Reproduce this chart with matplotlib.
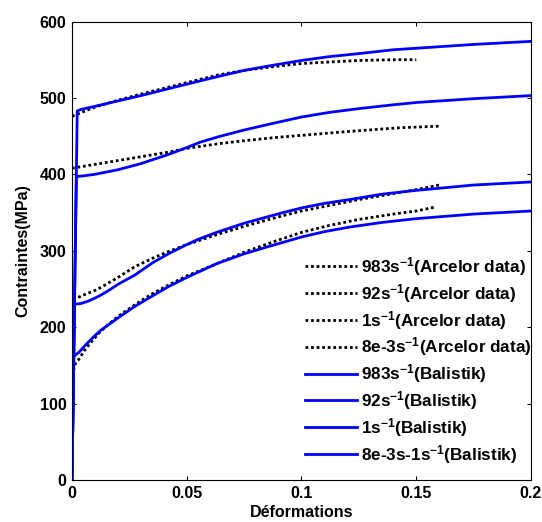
import matplotlib
matplotlib.use("Agg")
import matplotlib.pyplot as plt

plt.rcParams['font.family'] = ['Liberation Sans', 'DejaVu Sans']
plt.rcParams['font.weight'] = 'bold'
plt.rcParams['mathtext.fontset'] = 'custom'
plt.rcParams['mathtext.rm'] = 'Liberation Sans:bold'
plt.rcParams['mathtext.bf'] = 'Liberation Sans:bold'
plt.rcParams['mathtext.default'] = 'rm'

# Arcelor data (dotted black)
arc983_x = [0, 0.01, 0.02, 0.03, 0.042, 0.05, 0.0636, 0.075, 0.088, 0.1, 0.112, 0.125, 0.14, 0.15]
arc983_y = [476, 488, 497, 505, 514, 520, 530, 536, 541, 545, 547, 549, 550, 550]
arc92_x = [0, 0.01, 0.02, 0.03, 0.042, 0.05, 0.0636, 0.075, 0.088, 0.1, 0.12, 0.143, 0.16]
arc92_y = [408, 413, 418, 423, 429, 434, 440, 444, 448, 451, 456, 461, 463]
arc1_x = [0.0005, 0.005, 0.01, 0.0126, 0.02, 0.0273, 0.035, 0.042, 0.05, 0.063, 0.075,
          0.092, 0.1, 0.125, 0.15, 0.16]
arc1_y = [236, 242, 248, 252, 265, 279, 290, 299, 308, 321, 332, 346, 352, 367, 380, 386]
arc8_x = [0, 0.0005, 0.001, 0.003, 0.006, 0.01, 0.0126, 0.02, 0.0273, 0.034, 0.042, 0.05,
          0.063, 0.075, 0.088, 0.1, 0.112, 0.125, 0.14, 0.15, 0.158]
arc8_y = [100, 135, 150, 158, 172, 186, 195, 214, 229, 242, 255, 267, 283, 298, 312, 324,
          333, 341, 348, 352, 357]

# Balistik (solid blue)
bal983_x = [0, 0.0023, 0.004, 0.01, 0.02, 0.03, 0.042, 0.05, 0.0636, 0.075, 0.088, 0.1,
            0.112, 0.125, 0.14, 0.15, 0.175, 0.2]
bal983_y = [0, 483, 485, 489, 496, 503, 512, 518, 528, 536, 543, 549, 554, 558, 563, 565, 570, 574]
bal92_x = [0, 0.0019, 0.005, 0.01, 0.02, 0.03, 0.042, 0.05, 0.0558, 0.0636, 0.075, 0.088,
           0.1, 0.112, 0.125, 0.14, 0.15, 0.175, 0.2]
bal92_y = [0, 397, 398, 400, 406, 414, 426, 435, 442, 449, 458, 467, 475, 481, 486, 491,
           494, 499, 503]
bal1_x = [0, 0.0011, 0.004, 0.007, 0.01, 0.0126, 0.016, 0.02, 0.0273, 0.035, 0.042, 0.05,
          0.055, 0.063, 0.075, 0.092, 0.1, 0.11, 0.121, 0.135, 0.15, 0.175, 0.2]
bal1_y = [0, 230, 231, 234, 238, 242, 248, 256, 268, 284, 296, 308, 315, 324, 336, 350, 356,
          362, 367, 374, 379, 386, 390]
bal8_x = [0, 0.0008, 0.003, 0.006, 0.01, 0.0126, 0.02, 0.0273, 0.034, 0.042, 0.05, 0.055,
          0.063, 0.075, 0.085, 0.092, 0.1, 0.11, 0.121, 0.135, 0.15, 0.175, 0.2]
bal8_y = [0, 162, 167, 177, 189, 196, 212, 227, 239, 253, 265, 272, 283, 296, 305, 311, 318,
          325, 331, 337, 342, 348, 352]

labels = ['983s$^{-1}$(Arcelor data)', '92s$^{-1}$(Arcelor data)',
          '1s$^{-1}$(Arcelor data)', '8e-3s$^{-1}$(Arcelor data)',
          '983s$^{-1}$(Balistik)', '92s$^{-1}$(Balistik)',
          '1s$^{-1}$(Balistik)', '8e-3s-1s$^{-1}$(Balistik)']

fig = plt.figure(figsize=(5.42, 5.22), dpi=100)
ax = fig.add_axes([0.1328, 0.0805, 0.8469, 0.8783])

dot = (0, (1, 1))
ax.plot(arc983_x, arc983_y, color='k', ls=dot, lw=2, label=labels[0])
ax.plot(arc92_x, arc92_y, color='k', ls=dot, lw=2, label=labels[1])
ax.plot(arc1_x, arc1_y, color='k', ls=dot, lw=2, label=labels[2])
ax.plot(arc8_x, arc8_y, color='k', ls=dot, lw=2, label=labels[3])
ax.plot(bal983_x, bal983_y, color='#0000ff', lw=2, label=labels[4])
ax.plot(bal92_x, bal92_y, color='#0000ff', lw=2, label=labels[5])
ax.plot(bal1_x, bal1_y, color='#0000ff', lw=2, label=labels[6])
ax.plot(bal8_x, bal8_y, color='#0000ff', lw=2, label=labels[7])

ax.set_xlim(0, 0.2)
ax.set_ylim(0, 600)
ax.set_xticks([0, 0.05, 0.1, 0.15, 0.2])
ax.set_xticklabels(['0', '0.05', '0.1', '0.15', '0.2'])
ax.set_yticks([0, 100, 200, 300, 400, 500, 600])
ax.tick_params(direction='in', top=True, right=True, length=3, width=0.75,
               labelsize=11.5, pad=4)
for s in ax.spines.values():
    s.set_linewidth(0.8)

ax.set_xlabel('Déformations', fontsize=11.5, fontweight='bold', labelpad=3)
ax.set_ylabel('Contraintes(MPa)', fontsize=11.5, fontweight='bold', labelpad=7)

ax.legend(loc='lower right', frameon=False, fontsize=12.3, handlelength=3.05,
          handletextpad=0.2, labelspacing=0.23, borderaxespad=0.0,
          borderpad=0.3, bbox_to_anchor=(1.012, 0.02))

fig.savefig('out.png', dpi=100)
